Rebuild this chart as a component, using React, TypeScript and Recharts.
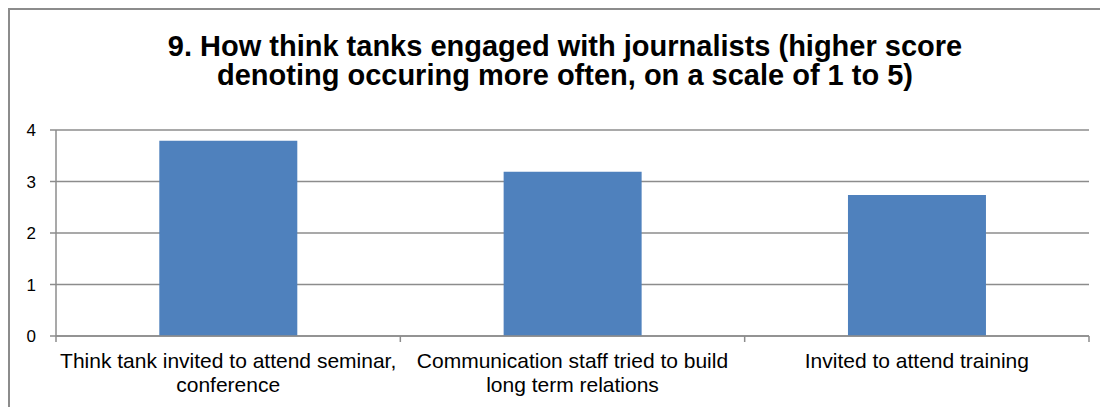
import React from "react";
import { BarChart, Bar, XAxis, YAxis, CartesianGrid } from "recharts";

const categories = [
  "Think tank invited to attend seminar, conference",
  "Communication staff tried to build long term relations",
  "Invited to attend training",
];
const scores = [3.79, 3.19, 2.74];
const labelLines = [
  ["Think tank invited to attend seminar,", "conference"],
  ["Communication staff tried to build", "long term relations"],
  ["Invited to attend training"],
];
const yTicks = [0, 1, 2, 3, 4];
const titleLines = [
  "9. How think tanks engaged with journalists (higher score",
  "denoting occuring more often, on a scale of 1 to 5)",
];

const data = categories.map((c, i) => ({ name: c, score: scores[i] }));

const FONT = "'Liberation Sans', Arial, sans-serif";
const GRID = "#8c8c8c";

const CatTick = (props: any) => {
  const { x, y, index, width, visibleTicksCount } = props;
  const lines = labelLines[index] || [];
  const n = visibleTicksCount || categories.length;
  const band = typeof width === "number" ? width / n : 0;
  return (
    <g>
      {band > 0 && (
        <line x1={x - band / 2} x2={x - band / 2} y1={y} y2={y + 6} stroke={GRID} strokeWidth={1.5} />
      )}
      {band > 0 && index === n - 1 && (
        <line x1={x + band / 2} x2={x + band / 2} y1={y} y2={y + 6} stroke={GRID} strokeWidth={1.5} />
      )}
      {lines.map((l, i) => (
        <text
          key={i}
          x={x}
          y={y + 32 + i * 24}
          textAnchor="middle"
          fontFamily={FONT}
          fontSize={21}
          fill="#000"
        >
          {l}
        </text>
      ))}
    </g>
  );
};

export default function App() {
  return (
    <div
      style={{
        position: "relative",
        width: 1100,
        height: 399,
        borderTop: `2px solid ${GRID}`,
        borderLeft: `2px solid ${GRID}`,
        boxSizing: "border-box",
        fontFamily: FONT,
      }}
    >
      <div
        style={{
          position: "absolute",
          left: 0,
          top: 22,
          width: 1110,
          textAlign: "center",
          fontWeight: "bold",
          fontSize: 29,
          lineHeight: "29px",
          color: "#000",
        }}
      >
        {titleLines.map((t, i) => (
          <div key={i}>{t}</div>
        ))}
      </div>
      <div style={{ position: "absolute", left: 0, top: 0 }}>
        <BarChart
          width={1098}
          height={397}
          data={data}
          margin={{ top: 120, right: 19, left: 6, bottom: 0 }}
          barCategoryGap="30%"
        >
          <CartesianGrid vertical={false} stroke={GRID} strokeWidth={1.5} />
          <XAxis
            dataKey="name"
            height={71}
            axisLine={{ stroke: GRID, strokeWidth: 1.5 }}
            tickLine={false}
            tickSize={0}
            tickMargin={0}
            interval={0}
            tick={<CatTick />}
          />
          <YAxis
            domain={[0, 4]}
            ticks={yTicks}
            width={40}
            axisLine={{ stroke: GRID, strokeWidth: 1.5 }}
            tickLine={{ stroke: GRID, strokeWidth: 1.5 }}
            tickSize={6}
            tickMargin={14}
            tick={{ fill: "#000", fontSize: 17, fontFamily: FONT }}
          />
          <Bar dataKey="score" fill="#4f81bd" isAnimationActive={false} />
        </BarChart>
      </div>
    </div>
  );
}
